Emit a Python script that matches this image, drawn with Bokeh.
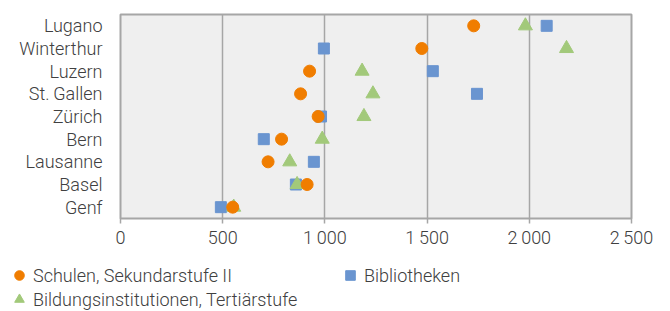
from bokeh.plotting import figure
from bokeh.layouts import column, row
from bokeh.models import FixedTicker, Legend, LegendItem, ColumnDataSource
from bokeh.embed import file_html
from bokeh.resources import INLINE

cities = ["Lugano", "Winterthur", "Luzern", "St.\u2009Gallen", "Zürich", "Bern", "Lausanne", "Basel", "Genf"]
schulen = [1728, 1474, 925, 881, 967, 788, 722, 913, 549]
bibliotheken = [2085, 995, 1528, 1744, 981, 701, 946, 858, 491]
bildung = [1981, 2182, 1182, 1235, 1191, 987, 828, 864, 554]
x_ticks = [0, 500, 1000, 1500, 2000, 2500]
x_tick_labels = ["0", "500", "1\u2009000", "1\u2009500", "2\u2009000", "2\u2009500"]
series_names = ["Schulen, Sekundarstufe II", "Bibliotheken", "Bildungsinstitutionen, Tertiärstufe"]

FONT = "'Roboto Light', Roboto"
FS = "18px"
TXT = "#404040"
GRID = "#a6a6a6"
C_S, C_B, C_T = "#f07d00", "#6a95d0", "#a2c97a"

p = figure(width=660, height=250, y_range=list(reversed(cities)), x_range=(0, 2500),
           output_backend="svg", toolbar_location=None,
           min_border_left=120, min_border_top=14, min_border_right=29, min_border_bottom=32)
p.background_fill_color = "#efefef"
p.border_fill_color = "white"
p.outline_line_color = GRID
p.outline_line_width = 2

src = ColumnDataSource(dict(city=cities, s=schulen, b=bibliotheken, t=bildung))
p.scatter("b", "city", source=src, marker="square", size=11, fill_color=C_B, line_color=C_B)
p.scatter("t", "city", source=src, marker="triangle", size=14, fill_color=C_T, line_color=C_T)
p.scatter("s", "city", source=src, marker="circle", size=12, fill_color=C_S, line_color=C_S)

p.xaxis.ticker = FixedTicker(ticks=x_ticks)
p.xaxis.major_label_overrides = {t: l for t, l in zip(x_ticks, x_tick_labels)}
p.xaxis.axis_line_color = None
p.xaxis.major_tick_line_color = GRID
p.xaxis.major_tick_line_width = 1.5
p.xaxis.major_tick_out = 5
p.xaxis.major_tick_in = 0
p.xaxis.minor_tick_line_color = None
p.xaxis.major_label_standoff = 3
p.xaxis.major_label_text_font = FONT
p.xaxis.major_label_text_font_size = FS
p.xaxis.major_label_text_color = TXT

p.yaxis.axis_line_color = None
p.yaxis.major_tick_line_color = None
p.yaxis.minor_tick_line_color = None
p.yaxis.major_label_standoff = 12
p.yaxis.major_label_text_font = FONT
p.yaxis.major_label_text_font_size = FS
p.yaxis.major_label_text_color = TXT

p.ygrid.grid_line_color = None
p.xgrid.grid_line_color = GRID
p.xgrid.grid_line_width = 1.5

# legend panel (separate plot, placeholder renderers sit outside the visible range)
lp = figure(width=660, height=61, x_range=(0, 1), y_range=(0, 1),
            output_backend="svg", toolbar_location=None,
            x_axis_type=None, y_axis_type=None, min_border=0)
lp.outline_line_color = None
lp.grid.grid_line_color = None
lp.background_fill_color = "white"
lp.border_fill_color = "white"
ls = lp.scatter(x=[-5], y=[-5], marker="circle", fill_color=C_S, line_color=C_S)
lb = lp.scatter(x=[-5], y=[-5], marker="square", fill_color=C_B, line_color=C_B)
lt = lp.scatter(x=[-5], y=[-5], marker="triangle", fill_color=C_T, line_color=C_T)


def style(lg):
    lg.label_text_font = FONT
    lg.label_text_font_size = FS
    lg.label_text_color = TXT
    lg.border_line_color = None
    lg.background_fill_alpha = 0
    lg.glyph_width = 26
    lg.glyph_height = 24
    lg.label_height = 24
    lg.label_standoff = 1
    lg.spacing = 0
    lg.padding = 0
    lg.margin = 0


leg1 = Legend(items=[LegendItem(label=series_names[0], renderers=[ls]),
                     LegendItem(label=series_names[2], renderers=[lt])],
              location=(6, 0), orientation="vertical")
leg2 = Legend(items=[LegendItem(label=series_names[1], renderers=[lb])],
              location=(337, 24), orientation="vertical")
style(leg1)
style(leg2)
lp.add_layout(leg1)
lp.add_layout(leg2)

layout = column(p, row(lp), spacing=0)
open("out.html", "w").write(file_html(layout, INLINE))
